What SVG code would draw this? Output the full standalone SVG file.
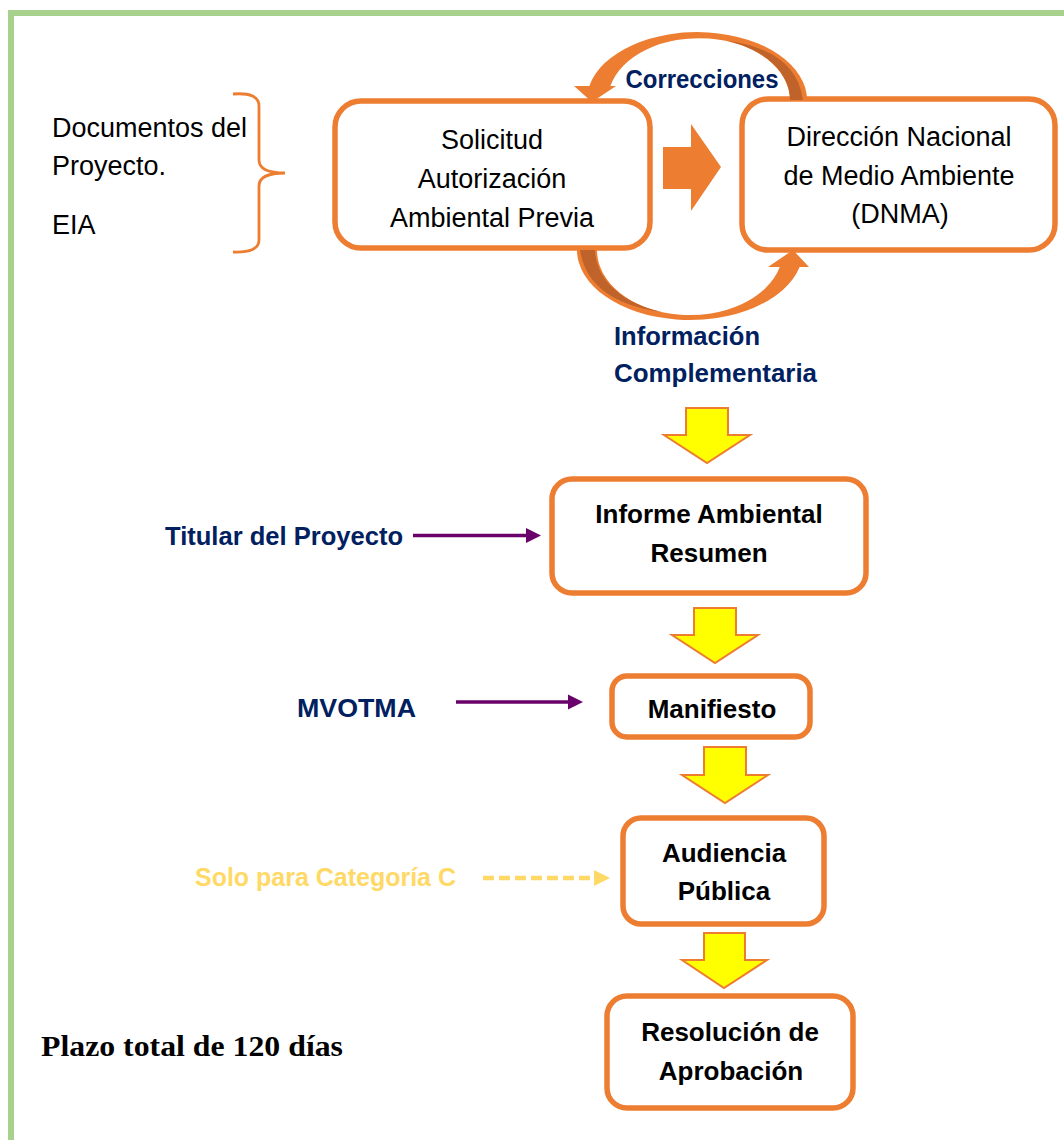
<svg xmlns="http://www.w3.org/2000/svg" width="1064" height="1140" viewBox="0 0 1064 1140">
  <style>
    .box { fill: #FFFFFF; stroke: #ED7D31; stroke-width: 5.5; }
    .reg { font-family: "Liberation Sans", Arial, sans-serif; font-size: 27px; fill: #000000; }
    .bold { font-family: "Liberation Sans", Arial, sans-serif; font-weight: bold; font-size: 26px; fill: #000000; }
    .navy { font-family: "Liberation Sans", Arial, sans-serif; font-weight: bold; font-size: 25px; fill: #002060; }
    .gold { font-family: "Liberation Sans", Arial, sans-serif; font-weight: bold; font-size: 25px; fill: #FFD966; }
    .serif { font-family: "Liberation Serif", "Times New Roman", serif; font-weight: bold; font-size: 29px; fill: #000000; }
    .down { fill: #FFFF00; stroke: #ED7D31; stroke-width: 2; stroke-linejoin: miter; }
    .ribbon { fill: #ED7D31; }
    .ribbon-dark { fill: #C0632A; }
    .feed { stroke: #6A006A; stroke-width: 3.5; fill: none; }
    .dashed { stroke: #FFD966; stroke-width: 4.5; stroke-dasharray: 11 5; fill: none; }
  </style>
  <defs>
    <marker id="head-purple" markerUnits="userSpaceOnUse" markerWidth="16" markerHeight="16" viewBox="0 0 16 16" refX="1" refY="8" orient="auto">
      <path d="M0 0.5 L15 8 L0 15.5 Z" fill="#6A006A"/>
    </marker>
    <marker id="head-gold" markerUnits="userSpaceOnUse" markerWidth="18" markerHeight="18" viewBox="0 0 18 18" refX="1" refY="9" orient="auto">
      <path d="M0 1 L16 9 L0 17 Z" fill="#FFD966"/>
    </marker>
  </defs>

  <rect width="1064" height="1140" fill="#FFFFFF"/>

  <!-- page frame: top and left rules only -->
  <path d="M11 1140 V13 H1064" fill="none" stroke="#A9D18E" stroke-width="6"/>

  <!-- input documents with curly brace -->
  <g id="documentos">
    <text class="reg" x="52" y="137">Documentos del</text>
    <text class="reg" x="52" y="175">Proyecto.</text>
    <text class="reg" x="52" y="234">EIA</text>
    <path d="M233 94 Q259 92 259 106 V160 Q259 173 285 173 Q259 173 259 186 V240 Q259 253 233 252" fill="none" stroke="#ED7D31" stroke-width="2.8"/>
  </g>

  <g id="solicitud">
    <rect class="box" x="335" y="101" width="315" height="147" rx="26"/>
    <text class="reg" text-anchor="middle" x="492" y="149">Solicitud</text>
    <text class="reg" text-anchor="middle" x="492" y="188">Autorización</text>
    <text class="reg" text-anchor="middle" x="492" y="227">Ambiental Previa</text>
  </g>

  <g id="dnma">
    <rect class="box" x="742" y="99" width="313" height="151" rx="26"/>
    <text class="reg" text-anchor="middle" x="899" y="146">Dirección Nacional</text>
    <text class="reg" text-anchor="middle" x="899" y="185">de Medio Ambiente</text>
    <text class="reg" text-anchor="middle" x="900" y="223">(DNMA)</text>
  </g>

  <g id="informe">
    <rect class="box" x="552" y="479" width="314" height="114" rx="20"/>
    <text class="bold" text-anchor="middle" x="709" y="523">Informe Ambiental</text>
    <text class="bold" text-anchor="middle" x="709" y="562">Resumen</text>
  </g>

  <g id="manifiesto">
    <rect class="box" x="612" y="676" width="198" height="61" rx="15"/>
    <text class="bold" text-anchor="middle" x="712" y="718">Manifiesto</text>
  </g>

  <g id="audiencia">
    <rect class="box" x="623" y="818" width="201" height="106" rx="18"/>
    <text class="bold" font-size="25" text-anchor="middle" x="724" y="862">Audiencia</text>
    <text class="bold" font-size="25" text-anchor="middle" x="724" y="900">Pública</text>
  </g>

  <g id="resolucion">
    <rect class="box" x="607" y="996" width="246" height="112" rx="20"/>
    <text class="bold" font-size="24" text-anchor="middle" x="730" y="1041">Resolución de</text>
    <text class="bold" font-size="24" text-anchor="middle" x="731" y="1080">Aprobación</text>
  </g>

  <g id="titular">
    <text class="navy" x="165" y="545" textLength="238" lengthAdjust="spacingAndGlyphs">Titular del Proyecto</text>
  </g>

  <g id="mvotma">
    <text class="navy" x="297" y="717" textLength="119" lengthAdjust="spacingAndGlyphs">MVOTMA</text>
  </g>

  <g id="categoria-c">
    <text class="gold" x="195" y="886" textLength="261" lengthAdjust="spacingAndGlyphs">Solo para Categoría C</text>
  </g>

  <g id="plazo">
    <text class="serif" x="41" y="1056" textLength="302" lengthAdjust="spacingAndGlyphs">Plazo total de 120 días</text>
  </g>

  <g id="connectors">
    <!-- curved ribbon: DNMA back to Solicitud (Correcciones) -->
    <path class="ribbon" d="M807 100 A110 68 0 0 0 589.4 86 L574 86 L592 102 L616 86 L610.4 86 A91 62 0 0 1 790 100 Z"/>
    <path class="ribbon-dark" d="M790 100 A91 62 0 0 0 728 41 Q796 50 803 100 Z"/>
    <text class="navy" text-anchor="middle" x="702" y="88" textLength="153" lengthAdjust="spacingAndGlyphs">Correcciones</text>

    <!-- curved ribbon: Solicitud to DNMA (Información Complementaria) -->
    <path class="ribbon" d="M577 250 A113 70 0 0 0 799.6 267 L809 267 L793 250 L768 267 L779.8 267 A93 65 0 0 1 597 250 Z"/>
    <path class="ribbon-dark" d="M595 250 A93 65 0 0 0 662 312 Q588 302 580 250 Z"/>
    <text class="navy" x="614" y="345" textLength="146" lengthAdjust="spacingAndGlyphs">Información</text>
    <text class="navy" x="614" y="382" textLength="203" lengthAdjust="spacingAndGlyphs">Complementaria</text>

    <!-- block arrow Solicitud to DNMA -->
    <path d="M663 147 H691 V124 L721 167 L691 211 V189 H663 Z" fill="#ED7D31"/>

    <!-- downward flow arrows -->
    <path class="down" d="M686 408 H728 V435 H750 L707 463 L664 435 H686 Z"/>
    <path class="down" d="M694 608 H736 V635 H758 L715 663 L672 635 H694 Z"/>
    <path class="down" d="M704 747 H746 V775 H768 L725 803 L682 775 H704 Z"/>
    <path class="down" d="M704 933 H745 V960 H767 L724 988 L682 960 H704 Z"/>

    <!-- side inputs -->
    <line class="feed" x1="413" y1="535.5" x2="527" y2="535.5" marker-end="url(#head-purple)"/>
    <line class="feed" x1="456" y1="702" x2="569" y2="702" marker-end="url(#head-purple)"/>
    <line class="dashed" x1="483" y1="878" x2="595" y2="878" marker-end="url(#head-gold)"/>
  </g>
</svg>
